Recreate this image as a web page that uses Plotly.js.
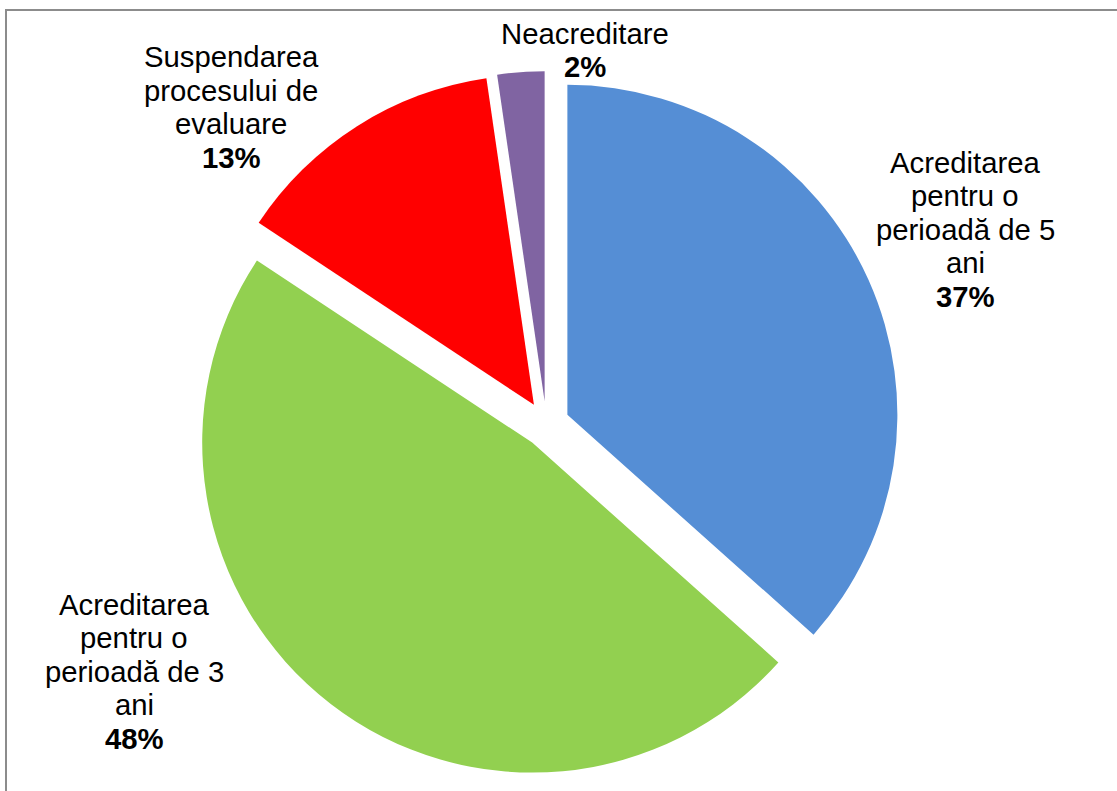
<!DOCTYPE html>
<html>
<head>
<meta charset="utf-8">
<script src="https://cdn.plot.ly/plotly-3.0.1.min.js"></script>
<style>
  html, body { margin: 0; padding: 0; background: #fff; }
  #chart { width: 1117px; height: 791px; }
</style>
</head>
<body>
<div id="chart"></div>
<script>
// ---- data ----
const categories = [
  "Acreditarea pentru o perioadă de 5 ani",
  "Acreditarea pentru o perioadă de 3 ani",
  "Suspendarea procesului de evaluare",
  "Neacreditare"
];
const labelLines = [
  ["Acreditarea", "pentru o", "perioadă de 5", "ani"],
  ["Acreditarea", "pentru o", "perioadă de 3", "ani"],
  ["Suspendarea", "procesului de", "evaluare"],
  ["Neacreditare"]
];
const values = [36.6, 47.7, 13.4, 2.3];
const percentLabels = ["37%", "48%", "13%", "2%"];
const colors = ["#558ED5", "#92D050", "#FF0000", "#8064A2"];

// ---- label placement (page pixels) ----
const W = 1117, H = 791;
const labelPos = [[965, 229], [134, 671], [231, 107], [585, 50]];
const pitch = 33.5;
const fontFamily = "Liberation Sans, Arial, sans-serif";

const annotations = [];
categories.forEach((c, i) => {
  const lines = labelLines[i].concat(["<b>" + percentLabels[i] + "</b>"]);
  const n = lines.length;
  lines.forEach((t, k) => {
    const py = labelPos[i][1] + (k - (n - 1) / 2) * pitch;
    annotations.push({
      xref: "paper", yref: "paper",
      x: labelPos[i][0] / W, y: 1 - py / H,
      xanchor: "center", yanchor: "middle",
      text: t, showarrow: false, align: "center",
      font: { family: fontFamily, size: 29.3, color: "#000" }
    });
  });
});

const trace = {
  type: "pie",
  labels: categories,
  values: values,
  marker: { colors: colors, line: { width: 0 } },
  sort: false,
  direction: "clockwise",
  rotation: 0,
  pull: [0.07, 0.07, 0.07, 0.07],
  textinfo: "none",
  hoverinfo: "skip",
  showlegend: false,
  domain: { x: [0, 1092.6 / W], y: [1 - 777.4 / H, 1 - 71.2 / H] }
};

const layout = {
  width: W, height: H,
  margin: { l: 0, r: 0, t: 0, b: 0 },
  paper_bgcolor: "#fff",
  showlegend: false,
  annotations: annotations,
  shapes: [
    { type: "line", xref: "paper", yref: "paper", x0: 5 / W, x1: 1, y0: 1 - 10 / H, y1: 1 - 10 / H, line: { color: "#8c8c8c", width: 2 } },
    { type: "line", xref: "paper", yref: "paper", x0: 6 / W, x1: 6 / W, y0: 0, y1: 1 - 10 / H, line: { color: "#8c8c8c", width: 2 } }
  ]
};

Plotly.newPlot("chart", [trace], layout, { displayModeBar: false, staticPlot: true });
</script>
</body>
</html>
